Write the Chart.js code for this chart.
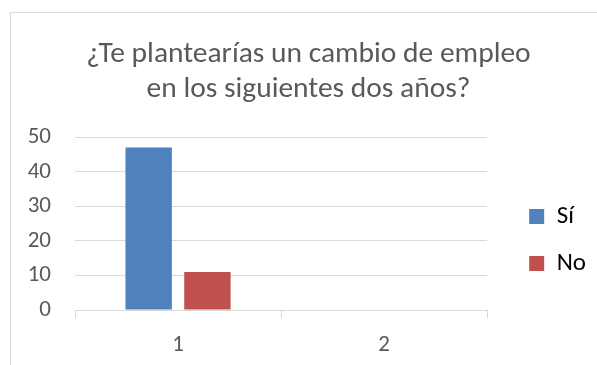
<!doctype html>
<html lang="es">
  <head>
    <meta charset="UTF-8" />
    <title>Cambio de empleo</title>
    <script src="https://cdn.jsdelivr.net/npm/chart.js"></script>
    <style>
      html, body { margin: 0; padding: 0; background: #fff; overflow: hidden; }
      #frame {
        position: absolute; left: 10px; top: 12px;
        width: 700px; height: 500px;
        border: 1px solid #d9d9d9;
      }
      #wrap { position: absolute; left: 0; top: 0; width: 597px; height: 365px; }
    </style>
  </head>
  <body>
    <div id="frame"></div>
    <div id="wrap"><canvas id="chart"></canvas></div>

    <script>
      const categories = ["1", "2"];
      const siValues = [47, 0];
      const noValues = [11, 0];
      const titleLines = ["¿Te plantearías un cambio de empleo", "en los siguientes dos años?"];

      const FONT = "Carlito, 'Open Sans', sans-serif";
      const GRID = "#d9d9d9";
      const TEXT = "#595959";

      new Chart(document.getElementById("chart"), {
        type: "bar",
        data: {
          labels: categories,
          datasets: [
            { label: "Sí", data: siValues, backgroundColor: "#4f81bd" },
            { label: "No", data: noValues, backgroundColor: "#c0504d" },
          ],
        },
        options: {
          responsive: true,
          maintainAspectRatio: false,
          animation: false,
          categoryPercentage: 0.57,
          barPercentage: 0.79,
          layout: { padding: { left: 21, right: 1, top: 0, bottom: 0 } },
          plugins: {
            title: {
              display: true,
              text: titleLines,
              color: TEXT,
              font: { family: FONT, size: 29.5, weight: "normal", lineHeight: 1.19 },
              padding: { top: 37, bottom: 30 },
            },
            legend: {
              position: "right",
              align: "center",
              fullSize: false,
              title: { display: true, text: "", font: { size: 10 }, padding: { top: 21, bottom: 0 } },
              labels: {
                boxWidth: 15,
                boxHeight: 15,
                padding: 22,
                color: "#000",
                font: { family: FONT, size: 25 },
              },
            },
            tooltip: { enabled: false },
          },
          scales: {
            x: {
              grid: {
                offset: true,
                drawOnChartArea: false,
                drawTicks: true,
                tickLength: 8,
                color: GRID,
              },
              border: { display: true, color: GRID, width: 1 },
              ticks: { color: TEXT, padding: 13, font: { family: FONT, size: 23 } },
              afterFit: (s) => { s.height = 55; },
            },
            y: {
              min: 0,
              max: 50,
              ticks: { stepSize: 10, color: TEXT, padding: 24, font: { family: FONT, size: 23 } },
              grid: { color: GRID, drawTicks: false },
              border: { display: false },
              afterFit: (s) => { s.width = 54; },
            },
            // empty gap between the plot and the legend
            gap: {
              type: "linear",
              position: "right",
              grid: { display: false },
              border: { display: false },
              ticks: { display: false },
              afterFit: (s) => { s.width = 20; },
            },
          },
        },
      });
    </script>
  </body>
</html>
